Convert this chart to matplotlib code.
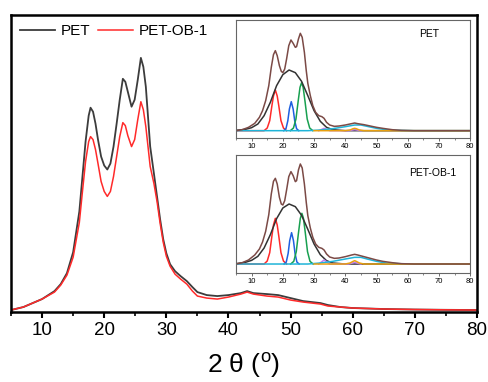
#required imports
import matplotlib
matplotlib.use("Agg")
import matplotlib.pyplot as plt

plt.rcParams["font.family"] = ["Liberation Sans", "DejaVu Sans"]
plt.rcParams["mathtext.fontset"] = "custom"
plt.rcParams["mathtext.rm"] = "Liberation Sans"

#==========================================
# main XRD patterns (2 theta, intensity)
#==========================================
pet_x = [5, 7, 10, 12, 13, 14, 15, 16, 16.5, 17, 17.5, 17.8, 18.2, 18.6, 19.0,
         19.5, 20.0, 20.5, 21.0, 21.5, 22.0, 22.5, 23.0, 23.4, 23.8, 24.4, 24.9,
         25.4, 25.9, 26.3, 26.7, 27.4, 28.0, 28.5, 29.0, 29.5, 30.0, 30.6, 31.4,
         32.3, 33.3, 34.2, 35, 36.5, 38.2, 40, 42, 43, 44, 46.2, 48, 50, 52,
         54.8, 56, 58, 60, 65, 70, 75, 80]
pet_y = [1, 4, 12, 20, 27, 38, 59, 100, 135, 170, 196, 204, 200, 188, 172,
         155, 146, 142, 148, 165, 188, 212, 233, 230, 220, 205, 212,
         232, 254, 245, 225, 165, 138, 115, 92, 72, 58, 47, 40,
         35, 30, 24, 19, 16, 15, 16, 18, 20, 18, 17, 16, 13, 10,
         8, 6, 4, 3, 2, 1.5, 1.2, 1]

ob_x = pet_x
ob_y = [1, 4, 12, 19, 26, 36, 54, 89, 120, 150, 170, 175, 172, 162, 148,
        130, 120, 115, 120, 135, 155, 175, 189, 186, 176, 165, 172,
        192, 210, 202, 185, 145, 128, 110, 88, 69, 55, 45, 37,
        32, 27, 20, 15, 13, 12, 14, 17, 19, 17, 15, 14, 11, 9,
        7, 5, 4, 3, 2, 1.5, 1.2, 1]

#==========================================
# peak fitting curves for the insets
#==========================================
# PET
pet_sum_x = [5, 7, 9, 11, 12.5, 13.5, 14.5, 15.5, 16.3, 17.0, 17.6, 18.2, 18.9,
             19.5, 20.0, 20.6, 21.2, 21.9, 22.6, 23.3, 24.0, 24.4, 25.0, 25.6,
             26.2, 26.9, 27.5, 28.0, 28.8, 29.6, 30.5, 31.5, 32.5, 33.2, 34.0,
             35.0, 36.5, 38, 40, 42, 43, 44, 46, 48, 50, 52, 55, 58, 62, 80]
pet_sum_y = [0, 3, 10, 22, 40, 60, 90, 135, 190, 228, 240, 225, 195,
             178, 174, 185, 215, 255, 272, 262, 250, 252, 275, 292,
             280, 235, 180, 142, 105, 75, 55, 45, 42, 37, 25,
             17, 13, 14, 17, 21, 23, 21, 18, 14, 10, 7, 3, 1, 0, 0]
pet_amor_x = [5, 8, 10, 12, 14, 16, 18, 20, 22, 24, 26, 28, 30, 32, 34, 36, 40, 80]
pet_amor_y = [1, 4, 9, 20, 45, 85, 135, 168, 182, 174, 148, 105, 60, 28, 10, 3, 0, 0]
pet_red_x = [5, 14.0, 15.0, 15.8, 16.5, 17.0, 17.6, 18.2, 18.7, 19.4, 20.2, 21.2]
pet_red_y = [0, 0, 8, 30, 75, 104, 122, 104, 75, 30, 8, 0]
pet_blue_x = [20.3, 21.0, 21.6, 22.1, 22.7, 23.3, 23.8, 24.4, 25.1]
pet_blue_y = [0, 6, 30, 65, 87, 65, 30, 6, 0]
pet_green_x = [22.4, 23.4, 24.2, 24.9, 25.5, 26.0, 26.5, 27.1, 27.8, 28.6, 29.6]
pet_green_y = [0, 8, 35, 88, 130, 144, 130, 88, 35, 8, 0]
pet_purple_x = [31.5, 32.5, 33.2, 34.0, 35.0, 41, 42.3, 43, 43.7, 45]
pet_purple_y = [0, 4, 7, 4, 0, 0, 2, 3, 2, 0]
pet_cyan_x = [5, 28, 32, 36, 40, 43, 45, 47, 50, 53, 57, 62, 80]
pet_cyan_y = [0, 0, 2, 6, 12, 17, 17, 13, 7, 3, 1, 0, 0]
pet_orange_x = [30, 40, 41.5, 42.5, 43, 43.5, 44.5, 46, 80]
pet_orange_y = [0, 0, 2, 6, 7, 6, 2, 0, 0]

# PET-OB-1
ob_sum_x = pet_sum_x
ob_sum_y = [0, 4, 12, 27, 45, 66, 98, 148, 210, 248, 257, 240, 200,
            180, 177, 190, 222, 262, 277, 265, 247, 250, 282, 300,
            288, 240, 185, 145, 108, 80, 60, 50, 47, 42, 30,
            21, 17, 18, 22, 27, 29, 27, 22, 17, 12, 8, 4, 1, 0, 0]
ob_amor_x = pet_amor_x
ob_amor_y = [1, 5, 11, 23, 48, 88, 136, 168, 180, 172, 146, 104, 60, 28, 10, 3, 0, 0]
ob_red_x = pet_red_x
ob_red_y = [0, 0, 9, 34, 84, 117, 137, 117, 84, 34, 9, 0]
ob_blue_x = [20.4, 21.1, 21.7, 22.2, 22.8, 23.4, 23.9, 24.5, 25.2]
ob_blue_y = [0, 6, 32, 70, 94, 70, 32, 6, 0]
ob_green_x = [22.5, 23.5, 24.3, 25.0, 25.6, 26.1, 26.6, 27.2, 27.9, 28.7, 29.7]
ob_green_y = [0, 8, 37, 93, 137, 152, 137, 93, 37, 8, 0]
ob_purple_x = [31.5, 32.5, 33.2, 34.0, 35.0, 41, 42.3, 43, 43.7, 45]
ob_purple_y = [0, 7, 12, 7, 0, 0, 3, 5, 3, 0]
ob_cyan_x = [5, 28, 32, 36, 40, 43, 45, 47, 50, 53, 57, 62, 80]
ob_cyan_y = [0, 0, 3, 8, 15, 20, 20, 15, 8, 3, 1, 0, 0]
ob_orange_x = [30, 40, 41.5, 42.5, 43, 43.5, 44.5, 46, 80]
ob_orange_y = [0, 0, 3, 8, 10, 8, 3, 0, 0]

xticks = [10, 20, 30, 40, 50, 60, 70, 80]
minor_ticks = [5, 15, 25, 35, 45, 55, 65, 75]

#==========================================
# draw one inset with the fitted peaks
#==========================================
def draw_inset(fig, rect, curves, label, ylim, label_pos):
  ax = fig.add_axes(rect)
  (amor, red, blue, green, purple, cyan, orange, total) = curves
  ax.plot(red[0], red[1], color="#ff2a2a", lw=1.1)
  ax.plot(blue[0], blue[1], color="#1f5fe0", lw=1.1)
  ax.plot(green[0], green[1], color="#18a050", lw=1.1)
  ax.plot(amor[0], amor[1], color="#333333", lw=1.1)
  ax.plot(purple[0], purple[1], color="#c27ef0", lw=1.1)
  ax.plot(cyan[0], cyan[1], color="#1fb4d8", lw=1.1)
  ax.plot(orange[0], orange[1], color="#e8a010", lw=1.1)
  ax.plot(total[0], total[1], color="#7b4a46", lw=1.1)
  ax.set_xlim(5, 80)
  ax.set_ylim(*ylim)
  ax.set_xticks(xticks)
  ax.set_xticks(minor_ticks, minor=True)
  ax.set_yticks([])
  ax.tick_params(axis="x", which="major", labelsize=5.5, length=2,
                 width=0.6, pad=1.5, direction="out", color="#555555")
  ax.tick_params(axis="x", which="minor", length=1.2, width=0.5,
                 direction="out", color="#555555")
  for spine in ax.spines.values():
    spine.set_color("#666666")
    spine.set_linewidth(0.8)
  ax.text(label_pos[0], label_pos[1], label, transform=ax.transAxes,
          fontsize=7.5, ha="left", va="center")
  return ax

def main():
  # Define figure
  fig = plt.figure(figsize=(4.89, 3.82), dpi=100)
  ax = fig.add_axes([0.0225, 0.1832, 0.953, 0.7775])

  # Main patterns
  ax.plot(pet_x, pet_y, color="#3c3c3c", lw=1.3, label="PET")
  ax.plot(ob_x, ob_y, color="#ff2a2a", lw=1.1, label="PET-OB-1")

  ax.set_xlim(5, 80)
  ax.set_ylim(-1, 297)
  ax.set_xticks(xticks)
  ax.set_xticks(minor_ticks, minor=True)
  ax.set_yticks([])
  ax.tick_params(axis="x", which="major", labelsize=13.5, length=4,
                 width=1.5, direction="out", pad=3)
  ax.tick_params(axis="x", which="minor", length=3, width=1.2,
                 direction="out")
  for spine in ax.spines.values():
    spine.set_linewidth(1.8)
  ax.set_xlabel(r"2 θ ($\mathregular{^o}$)", fontsize=19, labelpad=9)

  # Legend
  ax.legend(loc="upper left", ncol=2, frameon=False, fontsize=11,
            handlelength=2.3, columnspacing=0.5, handletextpad=0.35,
            borderaxespad=0.2, bbox_to_anchor=(0.0, 1.0))

  # Insets
  draw_inset(fig, [0.4826, 0.6387, 0.479, 0.309],
             ((pet_amor_x, pet_amor_y), (pet_red_x, pet_red_y),
              (pet_blue_x, pet_blue_y), (pet_green_x, pet_green_y),
              (pet_purple_x, pet_purple_y), (pet_cyan_x, pet_cyan_y),
              (pet_orange_x, pet_orange_y), (pet_sum_x, pet_sum_y)),
             "PET", (-22, 332), (0.78, 0.885))
  draw_inset(fig, [0.4826, 0.2853, 0.479, 0.309],
             ((ob_amor_x, ob_amor_y), (ob_red_x, ob_red_y),
              (ob_blue_x, ob_blue_y), (ob_green_x, ob_green_y),
              (ob_purple_x, ob_purple_y), (ob_cyan_x, ob_cyan_y),
              (ob_orange_x, ob_orange_y), (ob_sum_x, ob_sum_y)),
             "PET-OB-1", (-27, 327), (0.74, 0.85))

  plt.savefig("out.png", dpi=100)

if __name__ == "__main__":
  main()
